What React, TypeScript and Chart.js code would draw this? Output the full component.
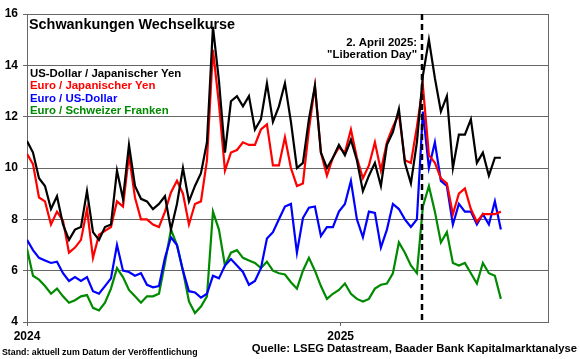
import React, { useEffect, useRef } from 'react';
import { Chart, registerables } from 'chart.js';

Chart.register(...registerables);

// ---- Data (weekly samples, day offsets from 1 Jan 2024) ----
const titleText = 'Schwankungen Wechselkurse';
const seriesNames = [
  'US-Dollar / Japanischer Yen',
  'Euro / Japanischer Yen',
  'Euro / US-Dollar',
  'Euro / Schweizer Franken',
];
const seriesColors = ['#000000', '#ff0000', '#0000ff', '#008a00'];

const usdJpy = [
  11.05, 10.6, 9.6, 9.3, 8.4, 8.9, 7.8, 7.2, 7.6, 7.7,
  9.1, 7.5, 7.2, 7.7, 7.8, 9.9, 8.8, 10.9, 9.3, 8.8,
  8.7, 8.4, 8.6, 8.9, 7.6, 8.6, 10.0, 8.7, 9.3, 9.8,
  11.0, 15.5, 13.4, 10.6, 12.6, 12.8, 12.4, 12.8, 11.5, 11.9,
  13.3, 11.8, 12.4, 13.3, 11.8, 10.0, 10.2, 11.9, 13.2, 10.6,
  10.0, 10.4, 10.9, 10.5, 11.1, 10.3, 9.1, 9.7, 10.2, 9.3,
  10.9, 11.4, 12.3, 10.2, 9.4, 11.0, 13.6, 15.0, 13.5, 12.2,
  12.8, 10.0, 11.3, 11.3, 11.9, 10.2, 10.6, 9.7, 10.4, 10.4,
];
const eurJpy = [
  10.55, 10.15, 8.85, 8.7, 7.8, 8.3, 7.95, 6.7, 6.9, 7.2,
  8.4, 6.5, 7.4, 7.55, 7.7, 8.7, 8.5, 10.5, 8.85, 8.0,
  8.0, 7.8, 7.7, 8.3, 9.05, 9.5, 9.0, 7.8, 8.6, 8.7,
  10.3, 14.6, 12.5, 9.9, 10.6, 10.7, 11.0, 10.9, 10.9, 11.5,
  11.7, 10.1, 10.1, 11.2, 10.0, 9.3, 9.4, 11.5, 13.2, 10.6,
  9.7, 10.4, 10.8, 10.6, 11.5, 10.4, 9.6, 10.1, 11.0, 9.9,
  11.0, 11.6, 12.1, 10.3, 10.2, 11.6, 13.2, 10.5, 10.2, 9.6,
  9.4, 8.2, 9.0, 9.2, 8.4, 7.9, 8.2, 8.2, 8.2, 8.3,
];
const eurUsd = [
  7.2, 6.8, 6.5, 6.4, 6.3, 6.35, 5.9, 5.6, 5.75, 5.6,
  5.75, 5.2, 5.1, 5.4, 5.7, 7.0, 6.0, 5.95, 5.8, 5.9,
  5.45, 5.35, 5.4, 6.5, 7.3, 7.0, 6.0, 5.2, 5.15, 4.95,
  5.1, 5.8, 5.7, 6.2, 6.45, 6.2, 5.95, 5.45, 5.6, 6.1,
  7.25, 7.5, 8.0, 8.5, 8.6, 6.7, 8.05, 8.45, 8.5, 7.35,
  7.7, 7.7, 8.3, 8.6, 9.5, 8.0, 7.3, 8.3, 8.25, 6.9,
  7.6, 8.6, 8.4, 8.0, 7.7, 8.0, 12.2, 10.0, 11.0, 9.5,
  9.3, 7.8, 8.6, 8.3, 8.3, 7.8, 8.2, 7.8, 8.7, 7.6,
];
const eurChf = [
  6.85, 5.8, 5.65, 5.4, 5.1, 5.3, 5.0, 4.75, 4.85, 5.0,
  5.05, 4.55, 4.45, 4.75, 5.3, 6.1, 5.75, 5.25, 5.0, 4.75,
  5.0, 5.0, 5.1, 6.3, 7.6, 7.0, 6.0, 4.8, 4.35, 4.6,
  5.0, 8.3, 7.6, 6.2, 6.7, 6.8, 6.5, 6.4, 6.3, 6.1,
  6.35, 6.0, 5.9, 5.85, 5.55, 5.3, 6.0, 6.5, 6.0, 5.4,
  4.9, 5.1, 5.25, 5.5, 5.1, 4.9, 4.8, 4.9, 5.3, 5.45,
  5.5, 5.9, 7.1, 6.7, 6.2, 5.9, 8.5, 9.3, 8.3, 7.1,
  7.5, 6.3, 6.2, 6.3, 5.9, 5.5, 6.3, 5.9, 5.8, 4.9,
];
const seriesValues = [usdJpy, eurJpy, eurUsd, eurChf];
const weekDays = usdJpy.map((_, i) => i * 7);

const xTickDays = [0, 366];
const xTickLabels = ['2024', '2025'];
const yTicks = [4, 6, 8, 10, 12, 14, 16];
const X_MAX_DAYS = 608;
const LIBERATION_DAY = 461;
const annotationLines = ['2. April 2025:', '"Liberation Day"'];
const footerLeft = 'Stand: aktuell zum Datum der Veröffentlichung';
const footerRight = 'Quelle: LSEG Datastream, Baader Bank Kapitalmarktanalyse';

const FONT = '"Liberation Sans", Arial, sans-serif';
const GRID = '#666666';

const overlayPlugin = {
  id: 'overlay',
  afterDatasetsDraw(chart: any) {
    const { ctx, chartArea } = chart;
    const xs = chart.scales.x;
    const x = Math.round(xs.getPixelForValue(LIBERATION_DAY));
    ctx.save();
    ctx.strokeStyle = '#000';
    ctx.lineWidth = 2.5;
    ctx.setLineDash([6, 4]);
    ctx.beginPath();
    ctx.moveTo(x, chartArea.top);
    ctx.lineTo(x, chartArea.bottom);
    ctx.stroke();
    ctx.restore();
  },
  afterDraw(chart: any) {
    const { ctx, chartArea } = chart;
    ctx.save();
    // right border of plot
    ctx.strokeStyle = GRID;
    ctx.lineWidth = 1;
    ctx.beginPath();
    ctx.moveTo(chartArea.right + 0.5, chartArea.top);
    ctx.lineTo(chartArea.right + 0.5, chartArea.bottom);
    ctx.stroke();

    ctx.textBaseline = 'alphabetic';
    ctx.textAlign = 'left';
    ctx.fillStyle = '#000';
    ctx.font = `bold 14.4px ${FONT}`;
    ctx.fillText(titleText, 29, 29.3);

    ctx.font = `bold 11.4px ${FONT}`;
    seriesNames.forEach((name, i) => {
      ctx.fillStyle = seriesColors[i];
      ctx.fillText(name, 30, 76.5 + i * 12.6);
    });

    const xs = chart.scales.x;
    const lx = xs.getPixelForValue(LIBERATION_DAY) - 5;
    ctx.fillStyle = '#000';
    ctx.textAlign = 'right';
    ctx.fillText(annotationLines[0], lx, 45.5);
    ctx.fillText(annotationLines[1], lx, 58);

    ctx.textAlign = 'left';
    ctx.font = `bold 8.8px ${FONT}`;
    ctx.fillText(footerLeft, 2, 354.5);
    ctx.textAlign = 'right';
    ctx.font = `bold 11.3px ${FONT}`;
    ctx.fillText(footerRight, 577, 351.5);
    ctx.restore();
  },
};

export default function App() {
  const ref = useRef<HTMLCanvasElement>(null);
  useEffect(() => {
    const canvas = ref.current;
    if (!canvas) return;
    const chart = new Chart(canvas, {
      type: 'line',
      data: {
        datasets: seriesNames.map((name, s) => ({
          label: name,
          data: weekDays.map((d, i) => ({ x: d, y: seriesValues[s][i] })),
          borderColor: seriesColors[s],
          backgroundColor: seriesColors[s],
          borderWidth: 2.2,
          pointRadius: 0,
          tension: 0,
          fill: false,
        })),
      },
      options: {
        responsive: false,
        animation: false,
        layout: { padding: { left: 0, right: 32, top: 14, bottom: 0 } },
        plugins: {
          legend: { display: false },
          tooltip: { enabled: false },
          title: { display: false },
        },
        scales: {
          x: {
            type: 'linear',
            min: 0,
            max: X_MAX_DAYS,
            afterBuildTicks: (axis: any) => {
              axis.ticks = xTickDays.map((v) => ({ value: v }));
            },
            afterFit: (axis: any) => {
              axis.height = 37;
            },
            ticks: {
              autoSkip: false,
              maxRotation: 0,
              padding: 3,
              color: '#000',
              font: { family: FONT, size: 12, weight: 'bold' },
              callback: (v: any) => {
                const i = xTickDays.indexOf(Number(v));
                return i >= 0 ? xTickLabels[i] : '';
              },
            },
            grid: { drawOnChartArea: false, drawTicks: true, tickLength: 4, color: GRID },
            border: { color: GRID },
          },
          y: {
            min: 4,
            max: 16,
            afterBuildTicks: (axis: any) => {
              axis.ticks = yTicks.map((v) => ({ value: v }));
            },
            afterFit: (axis: any) => {
              axis.width = 27;
            },
            ticks: {
              padding: 5,
              color: '#000',
              font: { family: FONT, size: 12, weight: 'bold' },
            },
            grid: { color: GRID, tickLength: 4, lineWidth: 1 },
            border: { color: GRID },
          },
        },
      },
      plugins: [overlayPlugin],
    } as any);
    return () => chart.destroy();
  }, []);
  return (
    <div style={{ position: 'fixed', left: 0, top: 0, width: 580, height: 359, background: '#fff' }}>
      <canvas ref={ref} width={580} height={359} style={{ display: 'block', width: 580, height: 359 }} />
    </div>
  );
}
